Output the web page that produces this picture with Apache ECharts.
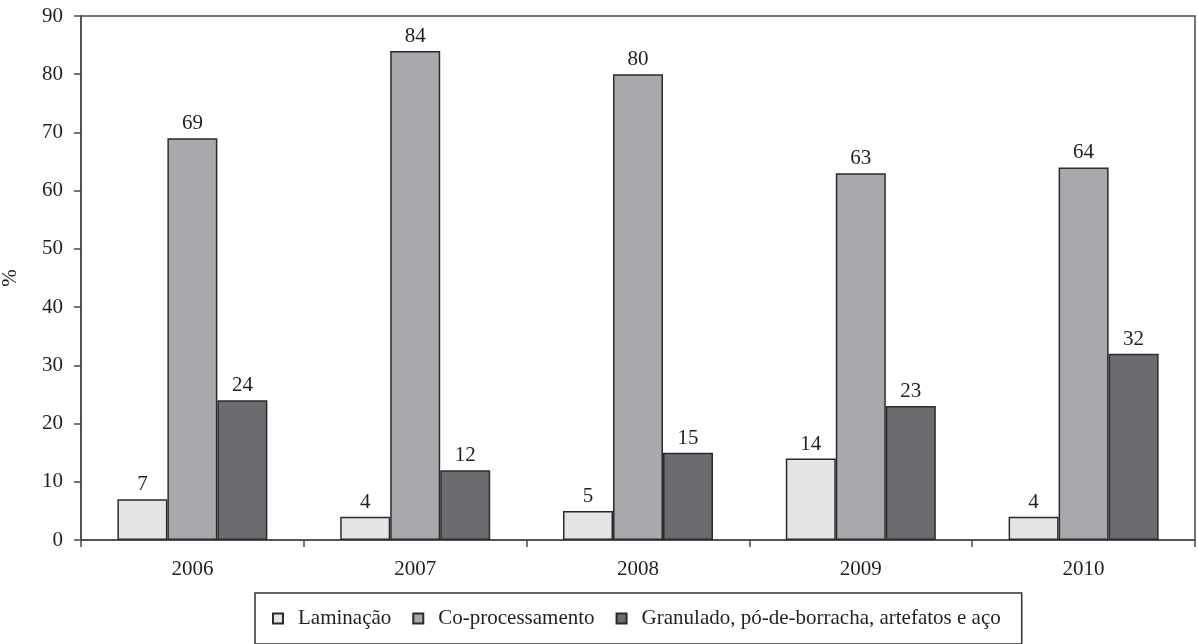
<!DOCTYPE html>
<html>
<head>
<meta charset="utf-8">
<title>Destinação de pneus inservíveis</title>
<script src="https://cdn.jsdelivr.net/npm/echarts@6/dist/echarts.min.js"></script>
<style>
  html, body { margin: 0; padding: 0; background: #ffffff; }
  #chart { width: 1198px; height: 644px; }
</style>
</head>
<body>
<div id="chart"></div>
<script>
// Years on the category axis
const years = ['2006', '2007', '2008', '2009', '2010'];

// Share (%) of each destination per year
const laminacao = [7, 4, 5, 14, 4];
const coProcessamento = [69, 84, 80, 63, 64];
const granulado = [24, 12, 15, 23, 32];

const seriesNames = [
  'Laminação',
  'Co-processamento',
  'Granulado, pó-de-borracha, artefatos e aço'
];
const seriesColors = ['#e4e5e7', '#a8a9ad', '#6b6c70'];

const FONT = '"Liberation Serif", "DejaVu Serif", serif';
const INK = '#231f20';
const LINE = '#4a4a4a';
const FS = 21;

function barSeries(name, data, color) {
  return {
    name: name,
    type: 'bar',
    data: data,
    barWidth: 50,
    barGap: '0%',
    itemStyle: { color: color, borderColor: '#2b2b2b', borderWidth: 1.5 },
    label: {
      show: true,
      position: 'top',
      distance: 4,
      color: INK,
      fontFamily: FONT,
      fontSize: FS
    }
  };
}

const chart = echarts.init(document.getElementById('chart'), null, { renderer: 'canvas' });

chart.setOption({
  animation: false,
  backgroundColor: '#ffffff',
  grid: {
    left: 81, right: 3, top: 16, bottom: 104,
    outerBoundsMode: 'none',
    containLabel: false,
    show: true,
    borderColor: LINE,
    borderWidth: 1.5,
    backgroundColor: 'transparent'
  },
  legend: {
    data: seriesNames,
    left: 255,
    top: 593,
    orient: 'horizontal',
    icon: 'rect',
    itemWidth: 10,
    itemHeight: 10,
    itemGap: 21,
    padding: [15, 21, 15, 17],
    borderColor: '#333333',
    borderWidth: 1.5,
    textStyle: {
      color: INK,
      fontFamily: FONT,
      fontSize: FS,
      padding: [0, 0, 0, 10]
    }
  },
  xAxis: {
    type: 'category',
    data: years,
    axisLine: { show: true, lineStyle: { color: LINE, width: 1.5 } },
    axisTick: { show: true, length: 7, lineStyle: { color: LINE, width: 1.5 } },
    axisLabel: { color: INK, fontFamily: FONT, fontSize: FS, margin: 19 },
    splitLine: { show: false }
  },
  yAxis: {
    type: 'value',
    min: 0,
    max: 90,
    interval: 10,
    name: '%',
    nameLocation: 'middle',
    nameRotate: 90,
    nameGap: 60,
    nameTextStyle: { color: INK, fontFamily: FONT, fontSize: FS },
    axisLine: { show: true, lineStyle: { color: LINE, width: 1.5 } },
    axisTick: { show: true, length: 7, lineStyle: { color: LINE, width: 1.5 } },
    axisLabel: { color: INK, fontFamily: FONT, fontSize: FS, margin: 18 },
    splitLine: { show: false }
  },
  series: [
    barSeries(seriesNames[0], laminacao, seriesColors[0]),
    barSeries(seriesNames[1], coProcessamento, seriesColors[1]),
    barSeries(seriesNames[2], granulado, seriesColors[2])
  ]
});
</script>
</body>
</html>
